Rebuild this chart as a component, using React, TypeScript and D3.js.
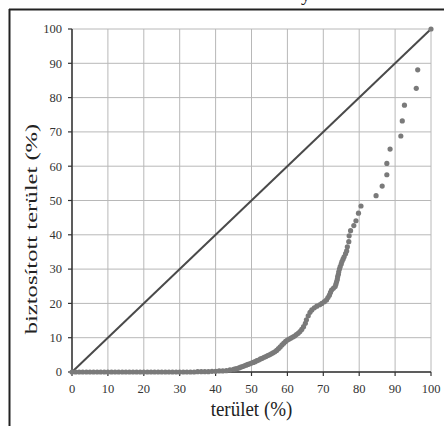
import React from "react";
import * as d3 from "d3";

// axis ticks (percent)
const ticks = [0, 10, 20, 30, 40, 50, 60, 70, 80, 90, 100];

// [terület %, biztosított terület %]
const flatPart: [number, number][] = [
  [0, 0], [1, 0], [2, 0], [3, 0], [4, 0], [5, 0], [6, 0], [7, 0], [8, 0], [9, 0],
  [10, 0], [11, 0], [12, 0], [13, 0], [14, 0], [15, 0], [16, 0], [17, 0], [18, 0], [19, 0],
  [20, 0], [21, 0], [22, 0], [23, 0], [24, 0], [25, 0], [26, 0], [27, 0], [28, 0], [29, 0],
  [30, 0], [31, 0], [32, 0], [33, 0], [34, 0], [35, 0.1], [36, 0.1], [37, 0.1], [38, 0.1], [39, 0.2],
  [40, 0.2], [41, 0.3], [42, 0.3], [43, 0.4],
];

const risingPart: [number, number][] = [
  [44, 0.6], [45, 0.8], [45.5, 0.9], [46, 1.0], [46.5, 1.2], [47, 1.4], [47.5, 1.6], [48, 1.8],
  [48.5, 2.0], [49, 2.2], [49.5, 2.4], [50, 2.6], [50.5, 2.8], [51, 3.0], [51.5, 3.3], [52, 3.5],
  [52.5, 3.8], [53, 4.0], [53.5, 4.3], [54, 4.5], [54.5, 4.8], [55, 5.0], [55.5, 5.3], [56, 5.6],
  [56.5, 5.9], [57, 6.3], [57.5, 6.8], [58, 7.3], [58.5, 7.9], [59, 8.4], [59.5, 8.9], [60, 9.3],
  [60.5, 9.6], [61, 9.9], [61.5, 10.2], [62, 10.5], [62.5, 10.9], [63, 11.3], [63.5, 11.8], [64, 12.4],
  [64.5, 13.2], [65, 14.2], [65.3, 15.2], [65.8, 16.4], [66.3, 17.4], [66.8, 18.1], [67.5, 18.7],
  [68.2, 19.2], [69, 19.6], [69.6, 20.0], [70.3, 20.5], [70.9, 21.0], [71.3, 21.7], [71.7, 22.4],
  [72, 23.2], [72.3, 23.9], [72.8, 24.4], [73.3, 24.9], [73.5, 25.6], [73.7, 26.3], [73.9, 27.0],
  [74, 27.8], [74.2, 28.5], [74.3, 29.2], [74.5, 30.0], [74.7, 30.7], [75, 31.5], [75.2, 32.2],
  [75.5, 32.9], [75.8, 33.6], [76.2, 34.5], [76.5, 35.3], [76.7, 36.5], [77.1, 38.0], [77.2, 39.7],
  [77.6, 41.2], [78.5, 42.7], [79.1, 44.1], [79.8, 46.3], [80.5, 48.4],
];

const upperPart: [number, number][] = [
  [84.7, 51.4], [86.4, 54.2], [87.7, 57.5], [87.7, 60.8], [88.6, 65.0], [91.6, 68.8],
  [92.0, 73.2], [92.6, 77.8], [95.9, 82.7], [96.3, 88.1], [100, 100],
];

const diagonal: [number, number][] = [[0, 0], [100, 100]];

const serif = "Liberation Serif";

export default function App() {
  const x = d3.scaleLinear().domain([0, 100]).range([72, 431]);
  const y = d3.scaleLinear().domain([0, 100]).range([372, 29]);
  const line = d3
    .line<[number, number]>()
    .x((d) => x(d[0]))
    .y((d) => y(d[1]));
  const points = [...flatPart, ...risingPart, ...upperPart];

  return (
    <svg
      width={444}
      height={426}
      style={{ position: "absolute", left: 0, top: 0, background: "#fff" }}
    >
      {/* frame */}
      <line x1={9} x2={444} y1={9.5} y2={9.5} stroke="#222" strokeWidth={2} />
      <line x1={9.5} x2={9.5} y1={9} y2={426} stroke="#222" strokeWidth={2} />
      <text x={301} y={1} fontFamily={serif} fontSize={19} fill="#222">
        y
      </text>

      {/* grid */}
      {ticks.map((t) => (
        <line key={"gx" + t} x1={x(t)} x2={x(t)} y1={y(100)} y2={y(0)} stroke="#b8b8b8" strokeWidth={1} />
      ))}
      {ticks.map((t) => (
        <line key={"gy" + t} x1={x(0)} x2={x(100)} y1={y(t)} y2={y(t)} stroke="#b8b8b8" strokeWidth={1} />
      ))}

      {/* axes */}
      <line x1={x(0)} x2={x(100)} y1={y(0)} y2={y(0)} stroke="#333" strokeWidth={1.5} />
      <line x1={x(0)} x2={x(0)} y1={y(100)} y2={y(0)} stroke="#333" strokeWidth={1.5} />
      {ticks.map((t) => (
        <g key={"tx" + t}>
          <line x1={x(t)} x2={x(t)} y1={y(0)} y2={y(0) + 4} stroke="#333" strokeWidth={1.2} />
          <text x={x(t)} y={393} textAnchor="middle" fontFamily={serif} fontSize={12.5} fill="#333">
            {t}
          </text>
        </g>
      ))}
      {ticks.map((t) => (
        <g key={"ty" + t}>
          <line x1={x(0) - 4} x2={x(0)} y1={y(t)} y2={y(t)} stroke="#333" strokeWidth={1.2} />
          <text x={62} y={y(t)} dy="0.35em" textAnchor="end" fontFamily={serif} fontSize={12.5} fill="#333">
            {t}
          </text>
        </g>
      ))}

      {/* diagonal */}
      <path d={line(diagonal) ?? ""} fill="none" stroke="#4a4a4a" strokeWidth={2} />

      {/* dots */}
      {points.map((d, i) => (
        <circle key={i} cx={x(d[0])} cy={y(d[1])} r={2.6} fill="#7a7a7a" />
      ))}

      {/* titles */}
      <text
        transform={`translate(${(x(0) + x(100)) / 2},416) scale(1,1.15)`}
        textAnchor="middle"
        fontFamily={serif}
        fontSize={19}
        fill="#222"
      >
        terület (%)
      </text>
      <text
        transform={`translate(37,229) scale(1,1.45) rotate(-90)`}
        textAnchor="middle"
        fontFamily={serif}
        fontSize={17}
        fill="#222"
      >
        biztosított terület (%)
      </text>
    </svg>
  );
}
